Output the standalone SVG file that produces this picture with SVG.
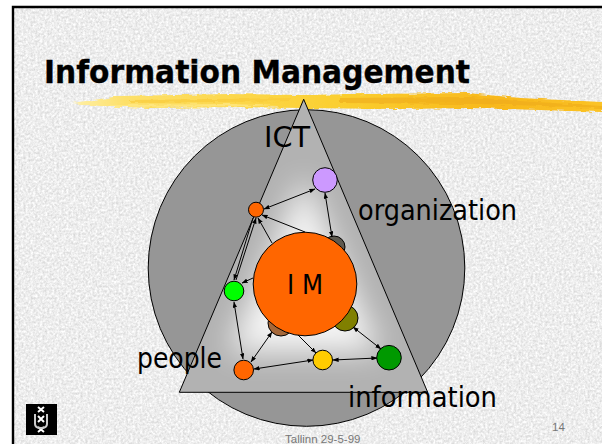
<svg xmlns="http://www.w3.org/2000/svg" width="602" height="444" viewBox="0 0 602 444">
<style>
.lbl{font-family:"DejaVu Sans Condensed","DejaVu Sans",sans-serif;font-size:29px;fill:#000}
.n{stroke:#000;stroke-width:1}
.c{fill:none;stroke:#000;stroke-width:1;marker-start:url(#a);marker-end:url(#a)}
.s{fill:none;stroke:#000;stroke-width:1;marker-end:url(#a)}
.f{font-family:"Liberation Sans",Arial,sans-serif;font-size:11.5px;fill:#777}
</style>
<defs>
<marker id="a" viewBox="0 0 8 6" refX="7.5" refY="3" markerWidth="6" markerHeight="4.500" markerUnits="userSpaceOnUse" orient="auto-start-reverse"><path d="M0 0L8 3L0 6Z" fill="#000"/></marker>
<linearGradient id="br" x1="0" x2="1" y1="0" y2="0">
<stop offset="0" stop-color="#fff0a8"/><stop offset=".1" stop-color="#fde06a"/><stop offset=".5" stop-color="#fbcf30"/><stop offset=".8" stop-color="#f8b81c"/><stop offset="1" stop-color="#fbc326"/>
</linearGradient>
<filter id="tx" x="0" y="0" width="100%" height="100%" color-interpolation-filters="sRGB">
<feTurbulence type="fractalNoise" baseFrequency=".42" numOctaves="3" seed="4"/>
<feColorMatrix values=".24 0 0 0 .81  .24 0 0 0 .81  .24 0 0 0 .81  0 0 0 0 1"/>
</filter>
<filter id="rough" x="-2%" y="-40%" width="104%" height="180%">
<feTurbulence type="fractalNoise" baseFrequency=".09 .5" numOctaves="2" seed="7"/>
<feDisplacementMap in="SourceGraphic" scale="4" xChannelSelector="R" yChannelSelector="G"/>
</filter>
<filter id="blur" x="-50%" y="-50%" width="200%" height="200%"><feGaussianBlur stdDeviation="15"/></filter>
<clipPath id="tc"><path d="M303.700 99.300L427.700 392.300H179.300Z"/></clipPath>
</defs>
<rect id="page" width="602" height="444" fill="#fff"/>
<rect x="13" y="7" width="589" height="437" filter="url(#tx)"/>
<path d="M13 444V7H602" fill="none" stroke="#000" stroke-width="2.400"/>
<g id="brush" filter="url(#rough)">
<path d="M72 103L100 99L120 96L230 94L300 95L370 94L467 93L520 98L602 102V112L540 110L470 108L400 109L300 108L240 107L150 108L100 106Z" fill="url(#br)"/>
<path d="M340 98L470 97L520 101L602 106V108L480 104L340 103Z" fill="#eda71a" opacity=".55"/>
<path d="M130 100L290 98L290 101L130 103Z" fill="#f9c833" opacity=".6"/>
<path d="M110 105L230 104L280 106L110 107Z" fill="#ffe98a" opacity=".7"/>
</g>
<text x="44" y="83" stroke="#000" stroke-width=".3" style="font-family:'DejaVu Sans Condensed','DejaVu Sans',sans-serif;font-weight:bold;font-size:32px" textLength="426" lengthAdjust="spacingAndGlyphs">Information Management</text>
<g id="disc"><circle cx="306.500" cy="268" r="158.300" fill="#969696" stroke="#000"/></g>
<g id="triangle">
<path d="M303.700 99.300L427.700 392.300H179.300Z" fill="#b2b2b2"/>
<g clip-path="url(#tc)"><path d="M304 176L380 352H228Z" fill="#fff" opacity=".88" filter="url(#blur)"/></g>
<path d="M303.700 99.300L427.700 392.300H179.300Z" fill="none" stroke="#000"/>
</g>
<g id="n-grey"><circle class="n" cx="334" cy="247" r="11" fill="#5e5a50"/></g>
<g id="n-olive"><circle class="n" cx="345" cy="318" r="13" fill="#808000"/></g>
<g id="n-brown"><circle class="n" cx="281" cy="323" r="13" fill="#a5683a"/></g>
<g id="n-im"><circle class="n" cx="305" cy="284" r="51.800" fill="#f60"/></g>
<g id="n-purple"><circle class="n" cx="325" cy="180" r="12.300" fill="#cc99ff"/></g>
<g id="n-orange1"><circle class="n" cx="256" cy="209.700" r="7.500" fill="#f60"/></g>
<g id="n-green"><circle class="n" cx="234" cy="291" r="9.800" fill="#0f0"/></g>
<g id="n-orange2"><circle class="n" cx="243.700" cy="370" r="9.800" fill="#f60"/></g>
<g id="n-yellow"><circle class="n" cx="322.700" cy="360" r="9.800" fill="#fc0"/></g>
<g id="n-dgreen"><circle class="n" cx="389" cy="357.700" r="12.300" fill="#090"/></g>
<g id="connectors">
<path class="c" d="M264 209L315 189"/>
<path class="c" d="M325 193L332 237"/>
<path class="s" d="M305 232L262 215"/>
<path class="s" d="M272 243L258 218"/>
<path class="s" d="M236 280L256 218"/>
<path class="s" d="M253 218L234 280"/>
<path class="s" d="M253 278L242 283"/>
<path class="c" d="M234 302L243 359"/>
<path class="c" d="M272 332L251 362"/>
<path class="c" d="M254 369L313 360"/>
<path class="s" d="M298 335L316 353"/>
<path class="c" d="M333 360L377 358"/>
<path class="c" d="M353 327L381 349"/>
</g>
<g id="labels">
<text class="lbl" x="264" y="147" textLength="46" lengthAdjust="spacingAndGlyphs">ICT</text>
<text class="lbl" x="358" y="220" textLength="159" lengthAdjust="spacingAndGlyphs">organization</text>
<text class="lbl" x="137" y="368" textLength="85" lengthAdjust="spacingAndGlyphs">people</text>
<text class="lbl" x="348" y="407" textLength="149" lengthAdjust="spacingAndGlyphs">information</text>
<text x="287" y="294" textLength="36" lengthAdjust="spacingAndGlyphs" style="font-family:'DejaVu Sans Condensed','DejaVu Sans',sans-serif;font-size:27px">I M</text>
</g>
<text class="f" x="552" y="431">14</text>
<text class="f" x="285" y="443">Tallinn 29-5-99</text>
<g id="logo"><rect x="26" y="404" width="31" height="31" fill="#000"/>
<path d="M38 407L44 412M44 407L38 412M38 416L44 422M44 416L38 422M38 427L44 432M44 427L38 432" stroke="#fff" stroke-width="2"/>
<path d="M35 414V424Q35 428 41 428Q47 428 47 424V414" fill="none" stroke="#ccc" stroke-width="2"/>
</g>
</svg>
